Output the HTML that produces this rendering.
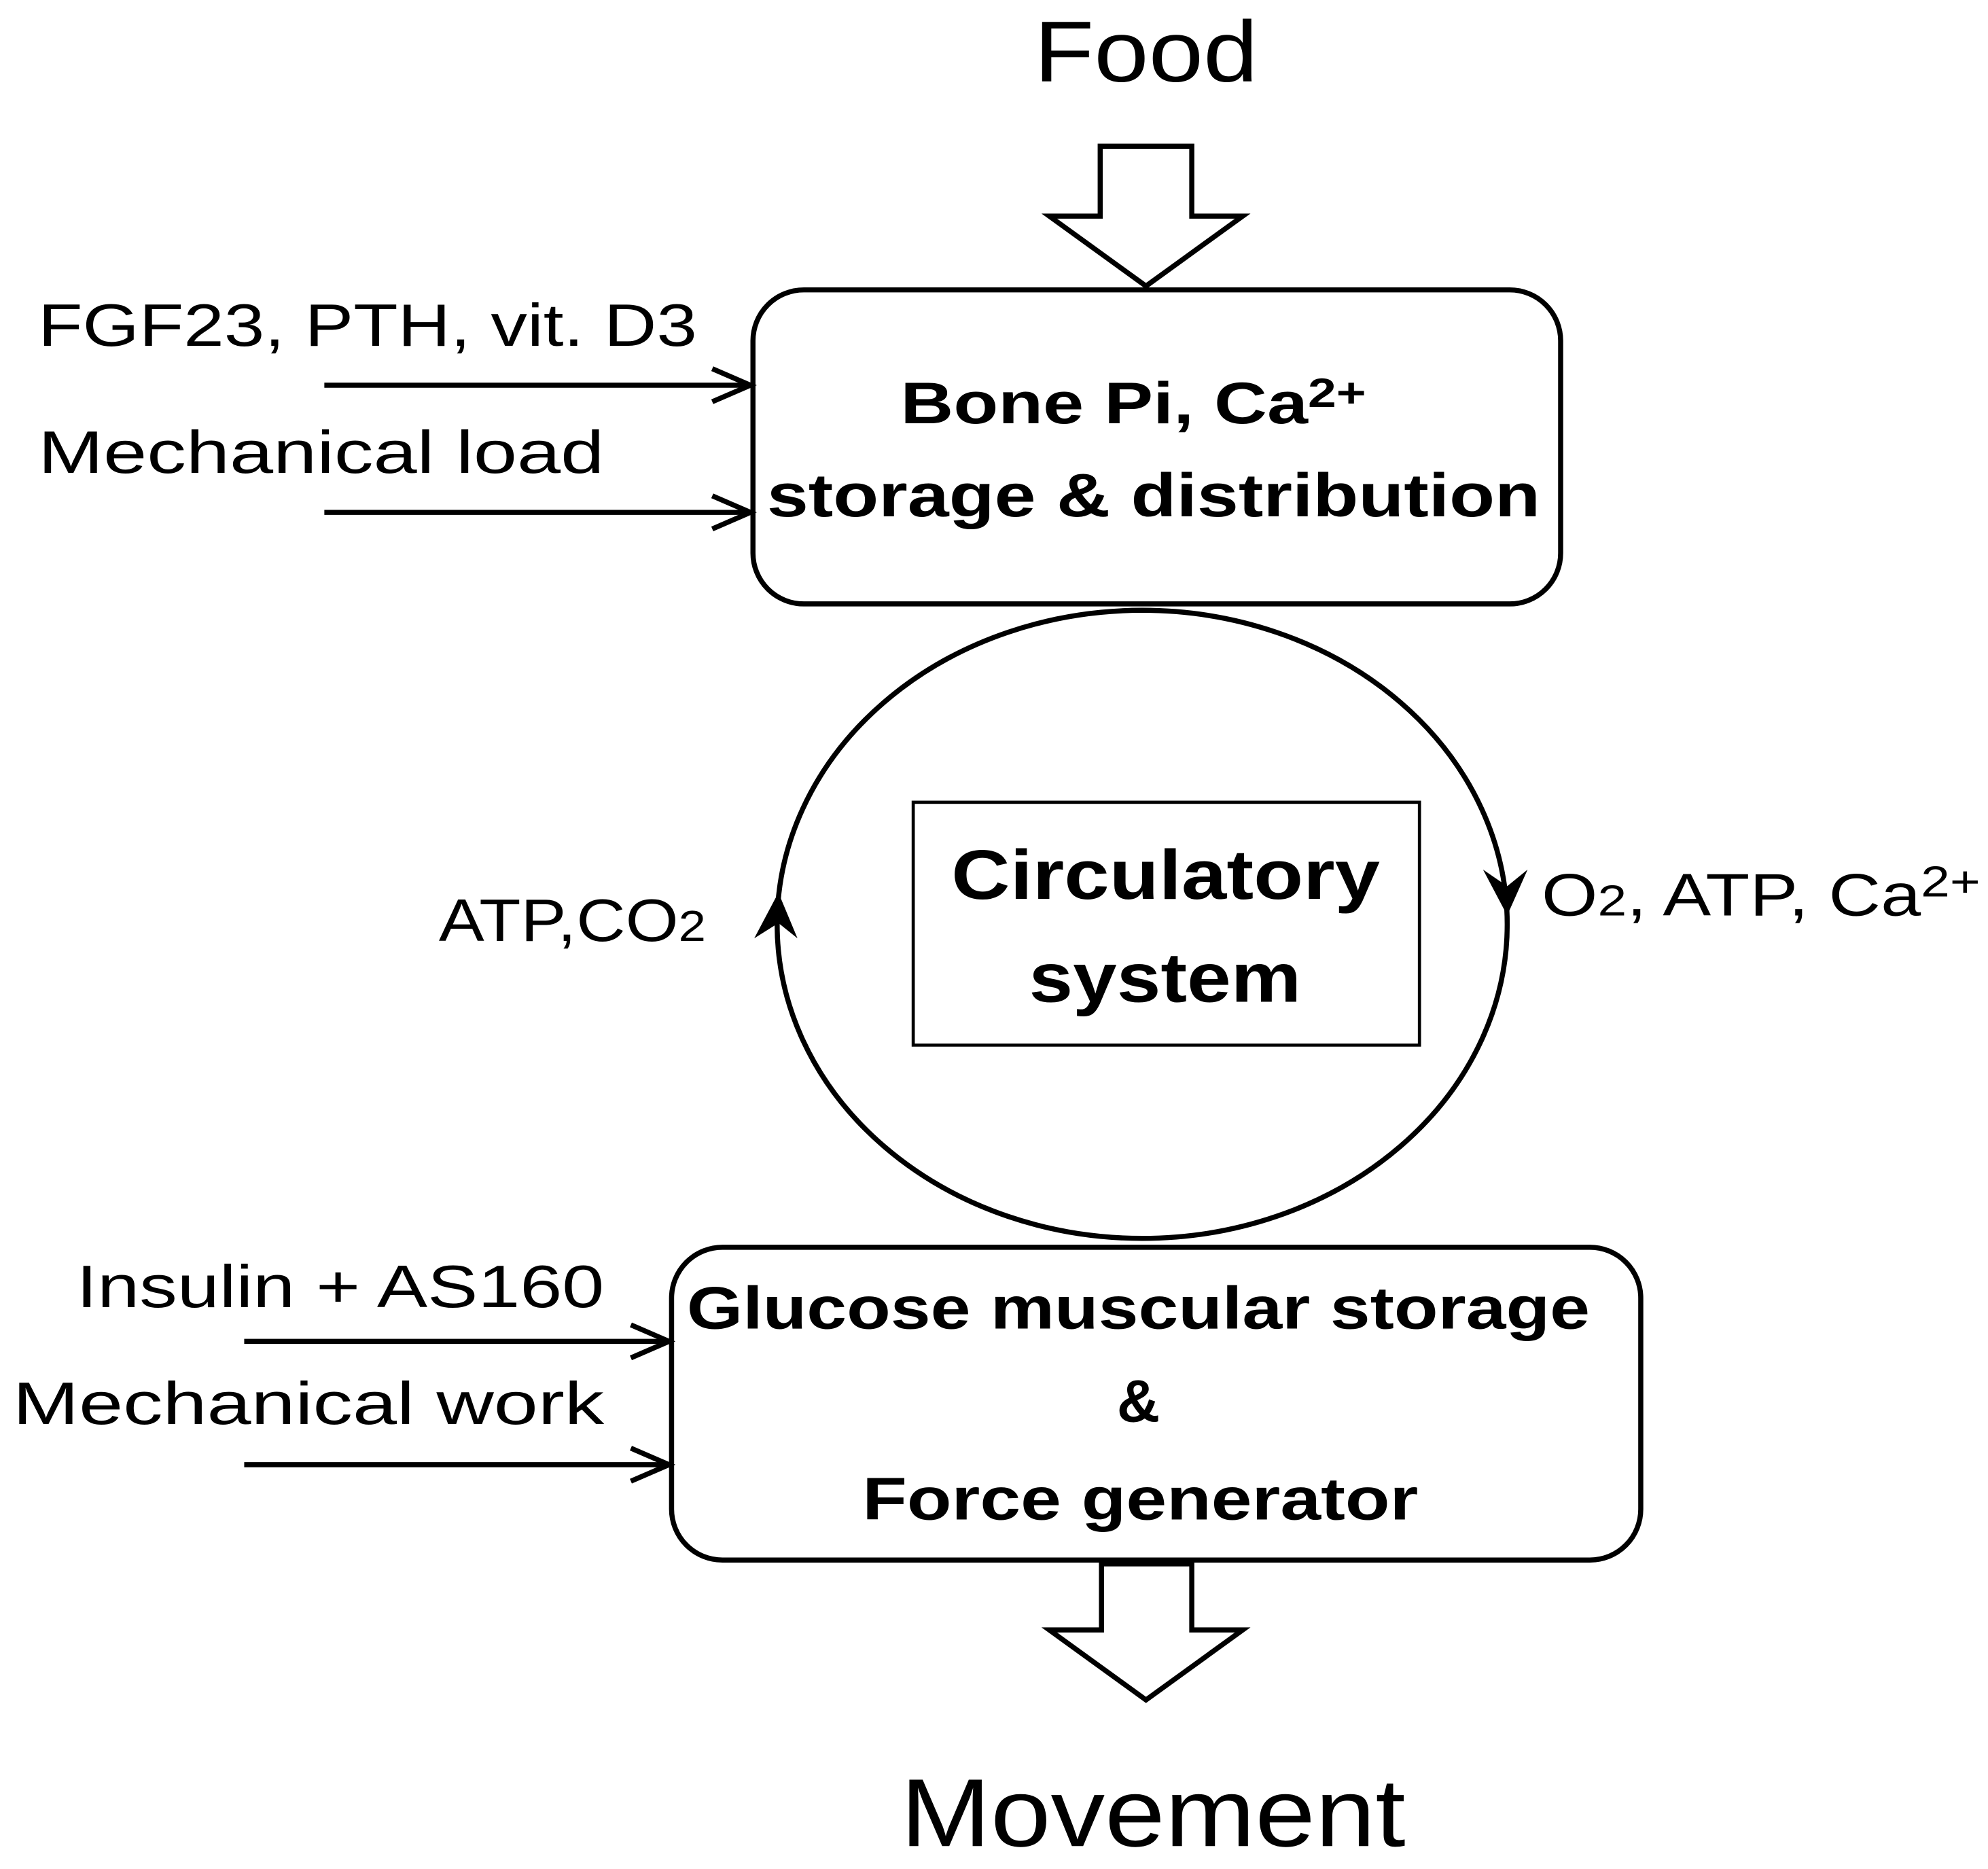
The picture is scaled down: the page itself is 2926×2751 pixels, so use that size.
<!DOCTYPE html>
<html><head><meta charset="utf-8"><style>
html,body{margin:0;padding:0;background:#fff}
svg{display:block}
text{font-family:"Liberation Sans",sans-serif;fill:#000}
.b{font-weight:bold}
</style></head><body>
<svg width="2926" height="2751" viewBox="0 0 1563 1470" preserveAspectRatio="none" xmlns="http://www.w3.org/2000/svg">
<rect width="1563" height="1470" fill="#fff"/>
<g fill="none" stroke="#000" stroke-width="4" stroke-linejoin="miter">
<path d="M865,115 H937 V170 H977 L901,225 L825,170 H865 Z"/>
<rect x="592" y="228" width="635" height="247" rx="40"/>
<ellipse cx="898" cy="727" rx="287" ry="247"/>
<rect x="718" y="631" width="398" height="191" stroke-width="2.5"/>
<rect x="528" y="981" width="762" height="246" rx="40"/>
<path d="M866,1230 H937 V1282 H977 L901,1337 L825,1282 H866 Z"/>
<line x1="255" y1="303" x2="590" y2="303"/>
<path d="M560,290 L590,303 L560,316"/>
<line x1="255" y1="403" x2="590" y2="403"/>
<path d="M560,390 L590,403 L560,416"/>
<line x1="192" y1="1055" x2="526" y2="1055"/>
<path d="M496,1042 L526,1055 L496,1068"/>
<line x1="192" y1="1152" x2="526" y2="1152"/>
<path d="M496,1139 L526,1152 L496,1165"/>
</g>
<path d="M612,702 L593,738 L612,726 L627,738 Z" fill="#000"/>
<path d="M1185,720 L1166,684 L1185,697 L1201,684 Z" fill="#000"/>
<text x="901" y="64" font-size="68" text-anchor="middle" textLength="176" lengthAdjust="spacingAndGlyphs">Food</text>
<text x="30" y="272" font-size="47" textLength="518" lengthAdjust="spacingAndGlyphs">FGF23, PTH, vit. D3</text>
<text x="30" y="372" font-size="47" textLength="445" lengthAdjust="spacingAndGlyphs">Mechanical load</text>
<text class="b" x="708" y="333" font-size="46" textLength="366" lengthAdjust="spacingAndGlyphs">Bone Pi, Ca<tspan font-size="32" dy="-13">2+</tspan></text>
<text class="b" x="603" y="406" font-size="48" textLength="608" lengthAdjust="spacingAndGlyphs">storage &amp; distribution</text>
<text class="b" x="748" y="707" font-size="55" textLength="337" lengthAdjust="spacingAndGlyphs">Circulatory</text>
<text class="b" x="809" y="788" font-size="55" textLength="214" lengthAdjust="spacingAndGlyphs">system</text>
<text x="345" y="740" font-size="47" textLength="210" lengthAdjust="spacingAndGlyphs">ATP,CO<tspan font-size="34">2</tspan></text>
<text x="1212" y="720" font-size="47" textLength="345" lengthAdjust="spacingAndGlyphs">O<tspan font-size="34">2</tspan>, ATP, Ca<tspan font-size="34" dy="-15">2+</tspan></text>
<text x="60" y="1028" font-size="47" textLength="415" lengthAdjust="spacingAndGlyphs">Insulin + AS160</text>
<text x="10" y="1120" font-size="47" textLength="465" lengthAdjust="spacingAndGlyphs">Mechanical work</text>
<text class="b" x="540" y="1045" font-size="47" textLength="710" lengthAdjust="spacingAndGlyphs">Glucose muscular storage</text>
<text class="b" x="895" y="1118" font-size="47" text-anchor="middle">&amp;</text>
<text class="b" x="678" y="1195" font-size="47" textLength="437" lengthAdjust="spacingAndGlyphs">Force generator</text>
<text x="708" y="1452" font-size="76" textLength="397" lengthAdjust="spacingAndGlyphs">Movement</text>
</svg>
</body></html>
